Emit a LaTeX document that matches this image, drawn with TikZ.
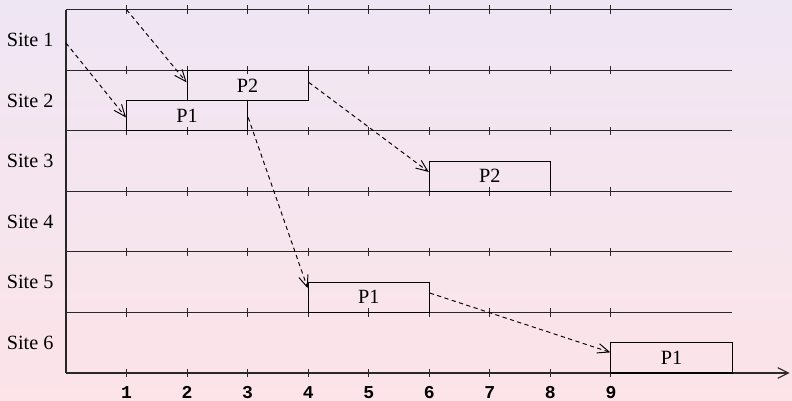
\documentclass[tikz,border=0pt]{standalone}
\usepackage{fontspec}
\setmainfont{Liberation Serif}
\newfontfamily\numfont{Liberation Mono}
\usetikzlibrary{arrows.meta}
\definecolor{BgTop}{RGB}{239,230,244}
\definecolor{BgBottom}{RGB}{252,228,232}
\definecolor{LaneGray}{RGB}{40,40,40}
\tikzset{
	lane/.style={draw=LaneGray,line width=0.5pt},
	job/.style={draw=black,line width=0.5pt,minimum width=2cm,minimum height=0.5cm,
		inner sep=0pt,font=\fontsize{9.5}{10}\selectfont},
	msg/.style={draw=black,line width=0.45pt,dash pattern=on 2pt off 1.6pt,
		-{Straight Barb[length=5.5pt,width=4.5pt]}},
	sitelbl/.style={anchor=east,inner sep=0pt,font=\fontsize{9.5}{10}\selectfont},
	num/.style={inner sep=0pt,font=\numfont\bfseries\fontsize{8.5}{9}\selectfont},
}

\begin{document}
\begin{tikzpicture}
	\shade[top color=BgTop,bottom color=BgBottom] (-1.09,-0.462) rectangle (11.99,6.16);
	\useasboundingbox (-1.09,-0.462) rectangle (11.99,6.16);
	% lanes and ticks
	\foreach \y in {1,...,6}{
		\draw[lane] (0,\y) -- (11,\y);
		\foreach \x in {1,...,9}
		\draw[lane] (\x,\y-0.07) -- (\x,\y+0.07);
	}
	\draw[lane] (0,0) -- (0,6);
	\draw[lane,-{Straight Barb[length=5pt,width=5pt]}] (0,0) -- (11.95,0);
	\foreach \x in {1,...,9}{
		\draw[lane] (\x,-0.07) -- (\x,0.07);
		\node[num] (t\x) at (\x,-0.32) {\x};
	}
	\foreach \i in {1,...,6}
	\node[sitelbl] (site\i) at (-0.2,6.5-\i) {Site \i};
	% jobs
	\node[job] (p1a) at (2,4.25) {P1};
	\node[job] (p2a) at (3,4.75) {P2};
	\node[job] (p2b) at (7,3.25) {P2};
	\node[job] (p1c) at (5,1.25) {P1};
	\node[job] (p1d) at (10,0.25) {P1};
	% messages
	\coordinate (s1) at (0,5.45);
	\coordinate (s1b) at (1,6);
	\draw[msg] (s1) -- ([yshift=-0.03cm]p1a.west);
	\draw[msg] (s1b) -- ([yshift=0.05cm]p2a.west);
	\draw[msg] ([yshift=0.05cm]p2a.east) -- ([yshift=0.07cm]p2b.west);
	\draw[msg] ([yshift=-0.03cm]p1a.east) -- ([yshift=0.15cm]p1c.west);
	\draw[msg] ([yshift=0.07cm]p1c.east) -- ([yshift=0.09cm]p1d.west);
\end{tikzpicture}
\end{document}
